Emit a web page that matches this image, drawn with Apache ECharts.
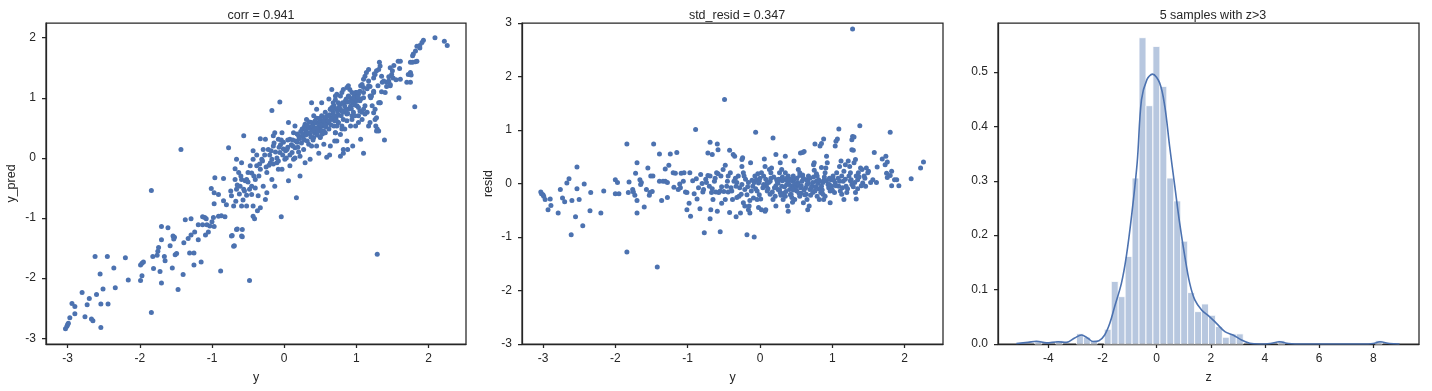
<!DOCTYPE html>
<html><head><meta charset="utf-8">
<script src="https://cdn.jsdelivr.net/npm/echarts@6/dist/echarts.min.js"></script>
<style>html,body{margin:0;padding:0;background:#fff}#c{width:1432px;height:391px}</style>
</head><body><div id="c"></div>
<script>
const titles = ['corr = 0.941', 'std_resid = 0.347', '5 samples with z>3'];
const axisNames = ['y', 'y_pred', 'y', 'resid', 'z'];

// [y, y_pred]
const predPoints = [
[-3.03,-2.84],[-3.01,-2.80],[-3.00,-2.77],[-2.99,-2.75],[-2.97,-2.66],[-2.94,-2.42],[-2.90,-2.47],[-2.90,-2.59],[-2.80,-2.24],[-2.76,-2.64],
[-2.73,-2.44],[-2.70,-2.34],[-2.67,-2.68],[-2.65,-2.71],[-2.62,-1.64],[-2.60,-2.27],[-2.55,-1.93],[-2.54,-2.43],[-2.54,-2.82],[-2.51,-2.18],
[-2.45,-1.64],[-2.44,-2.43],[-2.36,-1.83],[-2.34,-2.16],[-2.20,-1.66],[-2.16,-2.03],[-1.99,-1.78],[-1.97,-1.75],[-1.95,-1.73],[-1.99,-2.04],
[-1.97,-1.96],[-1.84,-0.54],[-1.84,-2.57],[-1.82,-1.64],[-1.81,-1.84],[-1.76,-1.62],[-1.75,-1.55],[-1.74,-1.49],[-1.72,-1.89],[-1.70,-1.14],
[-1.70,-1.36],[-1.70,-2.08],[-1.66,-1.64],[-1.65,-1.71],[-1.61,-1.16],[-1.58,-1.46],[-1.55,-1.83],[-1.54,-1.30],[-1.52,-1.32],[-1.53,-1.35],
[-1.51,-1.61],[-1.49,-1.59],[-1.47,-2.19],[-1.40,-1.94],[-1.39,-1.41],[-1.37,-1.03],[-1.33,-1.34],[-1.31,-1.58],[-1.25,-1.58],[-1.29,-1.01],
[-1.29,-1.28],[-1.25,-1.78],[-1.24,-1.23],[-1.19,-1.36],[-1.19,-1.11],[-1.13,-1.11],[-1.07,-1.11],[-1.15,-1.73],[-1.13,-0.98],[-1.10,-0.99],
[-1.08,-1.01],[-1.09,-1.28],[-1.05,-1.23],[-1.00,-1.06],[-0.97,-1.14],[-1.01,-0.51],[-0.97,-0.76],[-0.97,-0.58],[-0.91,-0.61],[-0.88,-1.88],
[-0.87,-0.96],[-0.82,-0.98],[-0.84,-0.71],[-0.72,-1.29],[-0.69,-1.46],[-0.65,-1.18],[-0.58,-1.19],[-0.58,-1.31],[-0.48,-2.04],[-0.41,-1.01],
[-0.37,-0.88],[-1.43,0.14],[1.29,-1.60],
[-1.03,-1.13],[-0.98,-0.99],[-0.96,-0.33],[-0.91,-0.97],[-0.84,-0.34],
[-0.77,0.17],[-0.73,-0.63],[-0.73,-1.30],[-0.70,-0.80],[-0.70,-1.47],[-0.68,-0.18],[-0.68,-0.36],[-0.66,-0.02],[-0.66,-0.52],[-0.66,-1.19],
[-0.63,-0.24],[-0.61,-0.47],[-0.59,-0.08],[-0.59,-0.36],[-0.59,-0.80],[-0.59,-1.30],[-0.56,0.37],[-0.56,-0.52],[-0.54,-0.38],[-0.52,-0.36],
[-0.52,-0.80],[-0.50,-0.24],[-0.47,-0.13],[-0.45,-0.47],[-0.45,-0.61],[-0.43,0.12],[-0.43,-0.02],[-0.43,-0.80],[-0.43,-0.97],[-0.40,-0.36],
[-0.38,-0.13],[-0.36,-0.63],[-0.33,0.32],[-0.33,-0.19],[-0.33,-0.83],[-0.31,-0.02],[-0.29,0.14],[-0.29,-0.47],[-0.26,0.31],[-0.26,-0.69],
[-0.24,-0.24],[-0.24,-0.58],[-0.22,0.14],[-0.19,-0.08],[-0.17,0.79],[-0.17,-0.36],[-0.17,-0.02],[-0.15,0.37],[-0.15,0.20],[-0.13,0.42],
[-0.13,-0.47],[-0.10,-0.08],[-0.08,0.31],[-0.08,-0.19],[-0.06,0.93],[-0.06,0.09],[-0.04,-0.98],[-0.03,0.42],[-0.03,-0.19],[-0.01,0.26],
[0.01,-0.02],[0.04,0.14],[0.06,0.59],[0.06,-0.38],[0.08,0.31],[0.08,-0.13],[0.11,0.09],[0.13,0.42],[0.13,-0.02],[0.15,0.53],
[0.15,0.17],[0.17,-0.66],[0.18,0.26],[0.20,0.37],[0.22,0.03],[0.22,-0.30],[0.25,0.48],[0.27,0.31],[0.27,0.14],[0.29,0.56],
[0.29,-0.08],[0.31,0.64],[0.31,0.42],[0.34,0.23],[0.36,0.51],[0.36,-0.02],[0.38,0.59],[0.38,0.92],[0.41,0.34],[0.41,0.70],
[0.43,0.48],[0.45,0.81],[0.45,0.20],[0.48,0.59],[0.48,0.08],[0.50,0.48],[0.50,0.34],[0.52,0.70],[0.52,0.92],[0.55,0.53],
[0.55,0.23],[0.57,0.76],[0.57,0.42],[0.59,0.62],[0.59,0.01],[0.62,0.48],[0.62,0.98],[0.64,0.81],[0.64,0.20],[0.66,0.64],
[0.66,1.14],[0.69,0.53],[0.69,0.87],[0.71,0.42],[0.71,1.03],[0.73,0.70],[0.73,0.28],[0.75,0.92],[0.75,0.59],[0.78,0.81],
[0.78,0.03],[0.80,0.48],[0.80,1.09],[0.82,0.76],[0.82,0.14],[0.85,0.95],[0.87,0.62],[0.87,0.28],[0.89,1.20],[0.89,0.81],
[0.92,0.53],[0.94,0.98],[0.94,0.70],[0.96,0.76],[0.99,1.09],[0.99,0.53],[1.01,0.87],[1.03,0.59],[1.06,1.20],[1.06,0.98],
[1.06,0.31],[1.08,0.76],[1.10,0.08],[1.10,1.09],[1.12,0.87],[1.15,0.76],[1.17,1.20],[1.19,1.03],[1.22,0.87],[1.24,1.09],
[1.26,0.64],[1.29,0.48],[1.31,0.45],[1.33,0.92],[1.36,1.26],[1.39,0.30],[1.40,1.09],[1.42,1.26],[1.47,1.20],[1.59,1.00],
[1.70,1.26],[1.75,1.26],[1.81,0.85],
[2.09,2.00],[2.22,1.94],[2.26,1.87],[1.93,1.96],[1.91,1.92],[1.88,1.87],[1.88,1.83],[1.84,1.86],[1.82,1.78],[1.79,1.73],
[1.78,1.70],[1.82,1.60],[1.84,1.61],[1.78,1.59],[1.75,1.59],[1.75,1.42],[1.72,1.39],[1.76,1.38],[1.58,1.61],[1.61,1.61],
[1.52,1.54],[1.47,1.50],[1.60,1.49],[1.61,1.31],[1.49,1.39],[1.51,1.33],[1.45,1.28],[1.47,1.22],[1.42,1.19],[1.38,1.28],
[1.35,1.36],[1.32,1.59],[1.33,1.53],[1.31,1.47],[1.28,1.45],[1.26,1.39],[1.24,1.33],[1.17,1.47],[1.14,1.42],[1.12,1.36],
[1.17,1.28],[1.10,1.31],[1.08,1.22],[1.19,1.19],[1.24,1.11],[1.21,1.03],[1.33,0.92],[1.31,0.92],[1.26,0.81],[1.24,0.75],
[1.28,0.67],[1.27,0.53],[1.28,0.45],[1.10,1.17],[1.05,1.11],[1.03,1.06],[1.01,1.09],[0.98,1.00],[0.96,0.97],[0.94,1.09],
[0.91,1.14],[0.89,1.03],[0.87,1.17],[0.82,1.14],[0.78,1.03],[0.73,1.06],[0.71,0.97],[0.68,0.92],[0.66,0.84],[0.64,0.81],
[1.03,0.84],[1.05,0.78],[1.10,0.81],[1.12,0.73],[1.08,0.64],[1.17,0.53],[1.19,0.59],[1.03,0.70],[0.98,0.70],[0.94,0.64],
[0.87,0.73],[0.82,0.64],[0.80,0.53],[0.75,0.59],[0.84,0.48],[0.73,0.53],[0.78,0.39],[0.71,0.42],
[0.30,0.45],[0.33,0.50],[0.36,0.40],[0.38,0.47],[0.40,0.55],[0.42,0.42],[0.44,0.58],[0.46,0.38],[0.48,0.52],[0.50,0.62],
[0.52,0.45],[0.54,0.57],[0.56,0.66],[0.35,0.60],[0.28,0.52],[0.25,0.36],[0.23,0.44],[0.40,0.30],[0.45,0.66],[0.58,0.52],
[0.60,0.70],[0.62,0.58],[0.65,0.66],[0.68,0.75],[0.70,0.62],[0.72,0.82],[0.75,0.72],[0.77,0.88],[0.80,0.78],[0.83,0.90],
[0.85,0.80],[0.88,0.93],[0.90,1.02],[0.92,0.86],[0.95,0.92],[0.97,1.05],[0.10,0.22],[0.12,0.30],[0.05,0.18],[0.08,0.05],
[0.02,0.12],[-0.02,0.05],[-0.05,0.22],[-0.08,-0.05],[-0.12,0.10],[-0.15,-0.10],[-0.20,0.05],[-0.25,-0.15],[-0.30,-0.05],[-0.35,-0.30],
[-0.40,-0.50],[-0.45,-0.25],[-0.50,-0.40],[-0.55,-0.55],[-0.60,-0.30],[-0.65,-0.45],[0.18,0.40],[0.20,0.10],[0.15,0.00],[0.32,0.28],
[0.38,0.20],[0.44,0.45],[0.50,0.35],[0.55,0.45],[1.00,0.95],[1.05,0.95],[1.15,1.15],[1.20,1.00],[1.30,1.20],[1.10,1.00],
[1.25,1.40],[1.35,1.10],[1.45,1.35],[1.50,1.45],[1.55,1.30],[0.63,0.05],[0.82,0.08],[0.88,0.14],[0.70,0.28],[0.95,0.20],
[0.12,0.20],[0.16,0.28],[0.19,0.18],[0.21,0.32],[0.24,0.25],[0.26,0.40],[0.28,0.30],[0.30,0.38],[0.32,0.55],[0.34,0.42],
[0.37,0.35],[0.39,0.52],[0.41,0.46],[0.43,0.62],[0.45,0.50],[0.47,0.44],[0.49,0.66],[0.51,0.55],[0.53,0.40],[0.55,0.62],
[0.57,0.55],[0.58,0.68],[0.61,0.62],[0.63,0.72],[0.65,0.55],[0.67,0.80],[0.69,0.70],[0.72,0.64],[0.74,0.78],[0.76,0.84],
[0.79,0.70],[0.81,0.92],[0.84,0.86],[0.86,0.98],[0.88,0.74],[0.91,0.94],[0.93,0.82],[0.96,1.00],[0.98,0.88],[1.02,1.02],
[0.05,0.30],[0.03,0.00],[-0.01,0.15],[-0.04,0.30],[-0.07,0.18],[-0.10,0.00],[-0.14,0.25],[-0.18,0.12],[-0.21,-0.12],[-0.27,0.05],
[-0.34,-0.10],[-0.38,0.05],[-0.42,-0.30],[-0.48,-0.52],[-0.52,-0.62],[-0.57,-0.70],[-0.62,-0.60],[-0.67,-0.72],[-0.74,-0.55],[-0.80,-0.78]
];

// [y, resid]
const residPoints = [
[-3.03,-0.16],[-3.02,-0.19],[-3.00,-0.21],[-2.99,-0.24],[-2.97,-0.30],[-2.93,-0.49],[-2.90,-0.29],[-2.89,-0.41],[-2.79,-0.55],[-2.76,-0.11],
[-2.73,-0.27],[-2.70,-0.34],[-2.67,0.01],[-2.64,0.09],[-2.61,-0.96],[-2.60,-0.32],[-2.55,-0.62],[-2.53,-0.10],[-2.53,0.31],[-2.50,-0.30],
[-2.45,-0.79],[-2.43,-0.01],[-2.35,-0.51],[-2.34,-0.17],[-2.20,-0.55],[-2.16,-0.14],[-2.00,0.07],[-1.97,0.02],[-2.00,-0.19],[-1.95,-0.19],
[-1.84,0.74],[-1.84,-1.28],[-1.82,-0.17],[-1.81,0.03],[-1.76,-0.11],[-1.75,-0.16],[-1.73,-0.22],[-1.72,0.19],[-1.70,0.39],[-1.70,-0.32],
[-1.70,-0.55],[-1.66,0.07],[-1.64,0.02],[-1.65,-0.02],[-1.60,-0.44],[-1.57,-0.11],[-1.55,0.29],[-1.53,-0.22],[-1.52,-0.17],[-1.49,-0.15],
[-1.51,0.14],[-1.48,0.14],[-1.47,0.74],[-1.42,-1.56],[-1.39,0.55],[-1.39,0.04],[-1.36,-0.32],[-1.34,0.04],[-1.31,0.04],[-1.28,0.02],
[-1.31,0.27],[-1.28,-0.26],[-1.26,0.34],[-1.24,0.55],[-1.20,0.20],[-1.17,0.19],[-1.19,-0.07],[-1.15,0.58],[-1.13,-0.11],[-1.10,-0.08],
[-1.11,-0.01],[-1.09,0.19],[-1.05,0.20],[-1.06,0.04],[-1.03,-0.16],[-1.01,-0.17],[-1.01,-0.49],[-0.97,0.20],[-0.98,-0.37],[-0.96,-0.61],
[-0.91,-0.19],[-0.89,1.01],[-0.88,0.09],[-0.87,-0.29],[-0.83,-0.47],[-0.82,0.17],[-0.79,-0.16],[-0.78,-0.11],[-0.77,-0.92],[-0.74,0.02],
[-0.72,0.15],[-0.72,0.57],[-0.69,0.77],[-0.69,0.14],[-0.67,-0.17],[-0.69,-0.66],[-0.68,-0.49],[-0.66,0.54],[-0.65,-0.30],[-0.63,0.04],
[-0.61,-0.16],[-0.60,0.20],[-0.59,0.74],[-0.59,-0.52],[-0.58,0.63],[-0.57,-0.17],[-0.55,-0.14],[-0.54,0.14],[-0.55,-0.90],[-0.53,-0.37],
[-0.51,0.26],[-0.49,1.57],[-0.48,0.34],[-0.48,-0.30],[-0.46,-0.05],[-0.44,-0.16],[-0.44,0.14],[-0.42,-0.54],[-0.42,0.62],[-0.41,0.20],
[-0.39,-0.14],[-0.38,-0.30],[-0.37,0.54],[-0.35,0.51],[-0.36,0.04],[-0.33,-0.05],[-0.33,-0.62],[-0.32,-0.26],[-0.30,0.14],[-0.29,-0.24],
[-0.27,-0.55],[-0.25,0.45],[-0.25,0.32],[-0.24,0.48],[-0.25,-0.02],[-0.23,0.20],[-0.23,-0.36],[-0.21,-0.42],[-0.21,-0.11],[-0.18,-0.21],
[-0.16,0.02],[-0.18,-0.96],[-0.16,-0.49],[-0.15,-0.42],[-0.14,-0.55],[-0.13,0.39],[-0.12,-0.14],[-0.10,-0.05],[-0.09,-0.27],[-0.08,-1.00],
[-0.07,0.14],[-0.06,0.96],[-0.05,0.07],[-0.02,0.01],[-0.01,0.04],[-0.04,-0.14],[-0.01,-0.21],[0.01,-0.29],[-0.02,-0.45],[0.02,-0.49],
[0.07,-0.52],[0.08,-0.49],[0.02,0.20],[0.05,0.14],[0.07,0.32],[0.06,0.46],[0.09,-0.05],[0.10,-0.14],[0.12,0.02],[0.13,0.26],
[0.15,0.20],[0.16,0.29],[0.18,0.85],[0.18,-0.30],[0.21,-0.24],[0.22,-0.42],[0.22,0.54],[0.23,0.07],[0.25,0.01],[0.27,0.20],
[0.25,-0.11],[0.28,-0.17],[0.30,-0.05],[0.28,0.39],[0.30,0.26],[0.32,-0.30],[0.35,-0.24],[0.35,0.51],[0.36,0.07],[0.37,-0.02],
[0.39,0.14],[0.38,-0.42],[0.39,-0.52],[0.41,-0.11],[0.42,-0.21],[0.44,-0.05],[0.45,0.04],[0.46,0.14],[0.47,0.42],[0.48,-0.30],
[0.50,-0.05],[0.51,-0.14],[0.52,0.02],[0.53,0.26],[0.55,0.20],[0.55,-0.24],[0.56,-0.08],[0.58,0.04],[0.56,0.57],[0.59,0.58],
[0.61,0.60],[0.60,-0.36],[0.62,-0.21],[0.64,0.07],[0.65,-0.02],[0.67,0.14],[0.66,-0.49],[0.68,-0.42],[0.69,-0.11],[0.72,-0.05],
[0.73,-0.17],[0.74,0.35],[0.75,0.39],[0.76,0.74],[0.78,0.04],[0.79,0.14],[0.81,0.07],[0.79,-0.24],[0.82,-0.30],[0.84,-0.17],
[0.83,0.70],[0.85,0.75],[0.88,0.83],[0.85,-0.05],[0.87,0.02],[0.89,0.07],[0.88,-0.30],[0.90,-0.24],[0.90,0.20],[0.91,0.29],
[0.92,0.51],[0.93,0.39],[0.95,-0.08],[0.96,-0.02],[0.97,-0.14],[0.97,-0.36],[0.98,0.07],[1.01,0.14],[1.03,-0.17],[1.04,0.01],
[1.04,0.70],[1.05,0.79],[1.06,0.20],[1.07,0.83],[1.09,1.02],[1.09,-0.05],[1.11,-0.14],[1.10,0.32],[1.12,0.42],[1.13,0.14],
[1.15,0.04],[1.16,-0.30],[1.16,0.23],[1.18,0.35],[1.19,-0.05],[1.20,-0.17],[1.22,0.42],[1.24,0.32],[1.25,0.20],[1.26,0.07],
[1.27,-0.02],[1.27,0.82],[1.28,0.88],[1.30,0.87],[1.27,0.63],[1.29,0.62],[1.28,2.89],[1.30,0.39],[1.32,0.45],[1.32,-0.17],
[1.33,-0.29],[1.33,0.14],[1.35,0.07],[1.36,0.20],[1.38,1.08],[1.39,0.29],[1.41,0.26],[1.42,0.01],[1.44,0.14],[1.46,-0.05],
[1.47,0.29],[1.49,0.20],[1.50,0.23],[1.53,0.02],[1.56,0.07],[1.58,0.58],[1.61,0.02],[1.62,0.31],[1.69,0.46],[1.73,0.35],
[1.74,0.51],[1.76,0.40],[1.75,0.19],[1.76,0.11],[1.80,0.15],[1.82,0.23],[1.80,0.96],[1.82,-0.04],[1.86,0.07],[1.89,0.07],
[1.92,-0.04],[2.09,0.09],[2.22,0.29],[2.26,0.40],
[0.20,-0.08],[0.24,0.03],[0.27,-0.12],[0.31,0.05],[0.33,-0.18],[0.37,0.10],[0.40,-0.02],[0.43,-0.20],[0.47,0.08],[0.49,-0.10],
[0.53,-0.02],[0.57,-0.18],[0.60,0.10],[0.63,-0.08],[0.67,0.00],[0.70,-0.22],[0.74,0.12],[0.77,-0.06],[0.80,0.00],[0.86,-0.12],
[0.92,0.05],[0.99,-0.05],[1.02,0.06],[1.08,0.10],[1.14,-0.08],[0.10,0.02],[0.14,-0.20],[0.04,-0.08],[0.00,0.10],[-0.04,-0.30],
[-0.08,0.02],[-0.14,-0.32],[-0.20,0.08],[-0.26,-0.20],[-0.32,0.02],[-0.40,-0.08],[-0.50,-0.15],[-0.62,0.10],[-0.70,-0.05],[-0.80,0.00],
[0.15,0.10],[0.35,0.20],[0.55,0.15],[0.75,0.25],[0.45,-0.35],[0.65,-0.30],[0.85,0.30],[1.25,0.05],[1.35,-0.10],[1.45,0.10],
[0.05,-0.02],[0.08,0.08],[0.11,-0.10],[0.14,0.04],[0.17,-0.16],[0.19,0.12],[0.22,-0.04],[0.26,0.08],[0.29,-0.22],[0.31,0.12],
[0.34,-0.06],[0.36,-0.15],[0.39,0.02],[0.42,0.08],[0.44,-0.26],[0.46,-0.12],[0.48,0.00],[0.51,0.10],[0.54,-0.18],[0.57,-0.04],
[0.59,0.16],[0.61,-0.12],[0.64,-0.20],[0.66,0.04],[0.69,0.10],[0.71,-0.08],[0.73,0.02],[0.76,-0.14],[0.78,0.18],[0.81,-0.10],
[0.83,0.04],[0.87,-0.20],[0.89,0.12],[0.94,-0.02],[0.96,0.10],[1.00,-0.12],[1.05,-0.04],[1.10,0.04],[1.13,-0.20],[1.18,0.08],
[1.21,-0.10],[1.23,0.14],[1.29,-0.06],[1.31,0.02],[1.37,0.12],[1.40,-0.04],[-0.03,0.18],[-0.06,-0.10],[-0.11,0.06],[-0.17,-0.06],
[-0.22,0.14],[-0.28,-0.08],[-0.34,0.10],[-0.45,0.04],[-0.53,-0.06],[-0.58,0.18],[-0.66,-0.10],[-0.75,0.08],[-0.85,-0.08],[-0.93,0.05]
];

// histogram of z (density), 50 bins
const binEdges = [-4.500,-4.243,-3.987,-3.730,-3.474,-3.217,-2.960,-2.704,-2.447,-2.191,-1.934,-1.677,-1.421,-1.164,-0.908,-0.651,-0.394,-0.138,0.119,0.375,
0.632,0.889,1.145,1.402,1.658,1.915,2.172,2.428,2.685,2.941,3.198,3.455,3.711,3.968,4.224,4.481,4.738,4.994,5.251,5.507,
5.764,6.021,6.277,6.534,6.790,7.047,7.304,7.560,7.817,8.073,8.330];
const binHeights = [0.0062,0,0,0.0062,0,0,0.019,0.0124,0.0062,0,
0.027,0.115,0.087,0.161,0.305,0.563,0.438,0.547,0.4735,0.305,
0.263,0.189,0.0945,0.0595,0.0736,0.0528,0.032,0.0124,0.0186,0.0186,
0,0,0,0,0,0.0062,0,0,0,0,
0,0,0,0,0,0,0,0,0,0.0062];

// KDE curve
const kdeX = [-5.18,-4.75,-4.44,-4.07,-3.64,-3.33,-3.03,-2.78,-2.54,-2.35,-2.13,-1.92,-1.73,-1.55,-1.30,-1.12,-0.93,-0.72,-0.56,-0.36,
-0.155,0.11,0.30,0.48,0.67,0.85,1.04,1.22,1.41,1.66,1.96,2.21,2.52,2.82,3.13,3.44,3.80,4.19,4.54,4.87,
5.40,6.50,7.60,8.00,8.25,8.60,8.97];
const kdeY = [0.001,0.003,0.005,0.002,0.004,0.003,0.011,0.0166,0.0105,0.0045,0.006,0.0166,0.038,0.069,0.112,0.161,0.234,0.333,0.449,0.486,
0.496,0.48,0.437,0.363,0.29,0.222,0.161,0.112,0.081,0.0626,0.050,0.038,0.0227,0.0166,0.0074,0.0013,0.0,0.001,0.004,0.001,
0.0,0.0,0.0,0.001,0.004,0.001,0.0];

const yTicks = [-3,-2,-1,0,1,2];
const residTicks = [-3,-2,-1,0,1,2,3];
const zTicks = [-4,-2,0,2,4,6,8];
const densTicks = [0,0.1,0.2,0.3,0.4,0.5];

const FONT = "'Liberation Sans', Arial, sans-serif";
const INK = '#262626';
const BLUE = '#4c72b0';

function axis(gridIndex, min, max, ticks, name, isY, gap, fmt) {
  return {
    type: 'value', gridIndex, min, max,
    name: name || '', nameLocation: 'middle', nameGap: gap || 0,
    nameTextStyle: {color: INK, fontSize: 12.5, fontFamily: FONT},
    axisLine: {show: true, onZero: false, lineStyle: {color: INK, width: 1.25}},
    axisTick: {show: true, length: 4, lineStyle: {color: INK, width: 1.25}, customValues: ticks},
    axisLabel: {show: true, color: INK, fontSize: 12, fontFamily: FONT, margin: isY ? 10 : 9,
      customValues: ticks, formatter: fmt || (v => String(v))},
    splitLine: {show: false}
  };
}

const gridStyle = {show: true, borderColor: INK, borderWidth: 1.25, backgroundColor: 'transparent'};
const titleStyle = {fontSize: 12.5, fontWeight: 'normal', color: INK, fontFamily: FONT};

const chart = echarts.init(document.getElementById('c'), null, {renderer: 'canvas'});
chart.setOption({
  animation: false,
  backgroundColor: '#fff',
  title: [
    {text: titles[0], left: 256, top: 4, textAlign: 'center', textStyle: titleStyle},
    {text: titles[1], left: 732, top: 4, textAlign: 'center', textStyle: titleStyle},
    {text: titles[2], left: 1208, top: 4, textAlign: 'center', textStyle: titleStyle}
  ],
  grid: [
    Object.assign({left: 46, top: 23, width: 420, height: 321}, gridStyle),
    Object.assign({left: 522, top: 23, width: 421, height: 321}, gridStyle),
    Object.assign({left: 998, top: 23, width: 421, height: 321}, gridStyle)
  ],
  xAxis: [
    axis(0, -3.30, 2.52, yTicks, axisNames[0], false, 27),
    axis(1, -3.29, 2.53, yTicks, axisNames[2], false, 27),
    axis(2, -5.86, 9.69, zTicks, axisNames[4], false, 27)
  ],
  yAxis: [
    axis(0, -3.095, 2.245, yTicks, axisNames[1], true, 28),
    axis(1, -3, 3, residTicks, axisNames[3], true, 27),
    axis(2, 0, 0.59, densTicks, '', true, 0, v => v.toFixed(1))
  ],
  series: [
    {type: 'scatter', xAxisIndex: 0, yAxisIndex: 0, data: predPoints, symbolSize: 5,
     itemStyle: {color: BLUE, opacity: 1}},
    {type: 'scatter', xAxisIndex: 1, yAxisIndex: 1, data: residPoints, symbolSize: 5,
     itemStyle: {color: BLUE, opacity: 1}},
    {type: 'custom', xAxisIndex: 2, yAxisIndex: 2,
     data: binHeights.map((h, i) => [binEdges[i], binEdges[i + 1], h]).filter(d => d[2] > 0),
     encode: {x: [0, 1], y: 2},
     renderItem: (params, api) => {
       const p0 = api.coord([api.value(0), api.value(2)]);
       const p1 = api.coord([api.value(1), 0]);
       return {type: 'rect', shape: {x: p0[0], y: p0[1], width: p1[0] - p0[0], height: p1[1] - p0[1]},
         style: {fill: 'rgba(76,114,176,0.4)', stroke: 'rgba(255,255,255,0.85)', lineWidth: 1}};
     }},
    {type: 'line', xAxisIndex: 2, yAxisIndex: 2, data: kdeX.map((x, i) => [x, kdeY[i]]),
     smooth: 0.35, showSymbol: false, lineStyle: {color: BLUE, width: 1.6}, z: 5}
  ]
});
</script></body></html>
